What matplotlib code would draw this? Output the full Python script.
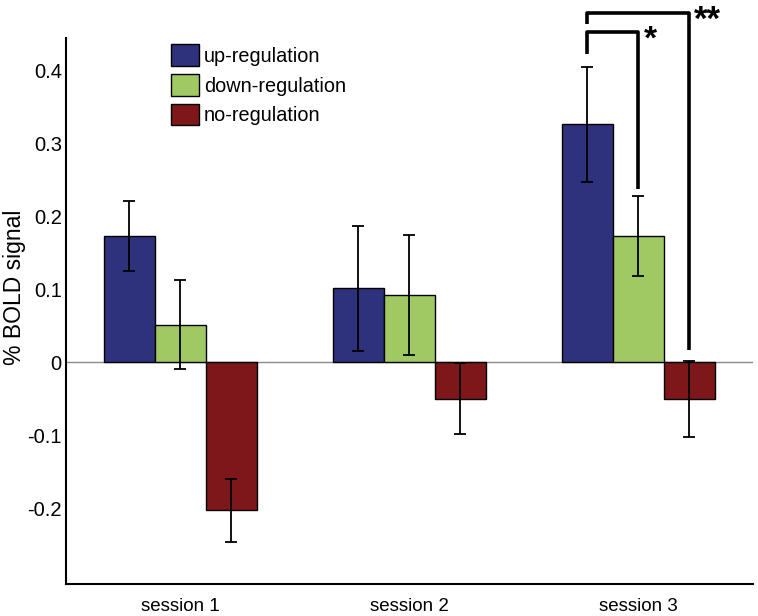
import numpy as np
import matplotlib.pyplot as plt

plt.rcParams['font.family'] = ['Liberation Sans', 'DejaVu Sans']

# 數據
sessions = ['session 1', 'session 2', 'session 3']
conditions = ['up-regulation', 'down-regulation', 'no-regulation']
up_mean = [0.173, 0.101, 0.326]
up_err = [0.048, 0.086, 0.079]
down_mean = [0.051, 0.092, 0.173]
down_err = [0.061, 0.082, 0.055]
no_mean = [-0.203, -0.050, -0.050]
no_err = [0.043, 0.049, 0.052]
colors = ['#2E317B', '#A1C963', '#7E1719']

means = [up_mean, down_mean, no_mean]
errs = [up_err, down_err, no_err]

fig = plt.figure(figsize=(7.58, 6.16), dpi=100)
ax = fig.add_axes([0.087, 0.052, 0.906, 0.886])

x = np.arange(1, len(sessions) + 1)
width = 0.223
offsets = [-width, 0, width]

ax.axhline(0, color='#8a8a8a', lw=1.0, zorder=1)

for m, e, c, off, lab in zip(means, errs, colors, offsets, conditions):
    ax.bar(x + off, m, width, color=c, edgecolor='black', linewidth=1.0,
           label=lab, zorder=2)
    ax.errorbar(x + off, m, yerr=e, fmt='none', ecolor='black',
                elinewidth=1.3, capsize=4, capthick=1.3, zorder=3)

# 顯著性標記 (session 3)
s3 = 2
xb = x[s3] + offsets[0]
xg = x[s3] + offsets[1]
xr = x[s3] + offsets[2]
blw = 2.6
ax.plot([xb, xb, xg, xg], [0.423, 0.452, 0.452, 0.237], color='black',
        lw=blw, clip_on=False, solid_capstyle='butt', zorder=4)
ax.plot([xb, xb, xr, xr], [0.464, 0.479, 0.479, 0.016], color='black',
        lw=blw, clip_on=False, solid_capstyle='butt', zorder=4)
ax.text(xg + 0.025, 0.442, '*', fontsize=24, fontweight='bold',
        ha='left', va='center', clip_on=False)
ax.text(xr + 0.02, 0.468, '**', fontsize=25, fontweight='bold',
        ha='left', va='center', clip_on=False)

ax.set_xlim(0.5, 3.5)
ax.set_ylim(-0.304, 0.444)
ax.set_xticks(x)
ax.set_xticklabels(sessions)
ax.set_yticks([-0.2, -0.1, 0, 0.1, 0.2, 0.3, 0.4])
ax.set_yticklabels(['-0.2', '-0.1', '0', '0.1', '0.2', '0.3', '0.4'])
ax.tick_params(axis='y', length=0, labelsize=14.5, pad=3)
ax.tick_params(axis='x', length=0, labelsize=13.5, pad=10)
ax.set_ylabel('% BOLD signal', fontsize=16.5)
ax.yaxis.set_label_coords(-0.058, 0.544)

for side in ['top', 'right']:
    ax.spines[side].set_visible(False)
for side in ['left', 'bottom']:
    ax.spines[side].set_linewidth(1.5)

ax.legend(loc='upper left', bbox_to_anchor=(0.142, 1.003), frameon=False,
          fontsize=14.3, handlelength=1.4, handleheight=1.3,
          labelspacing=0.4, handletextpad=0.25, borderaxespad=0)

fig.savefig('out.png', dpi=100)
